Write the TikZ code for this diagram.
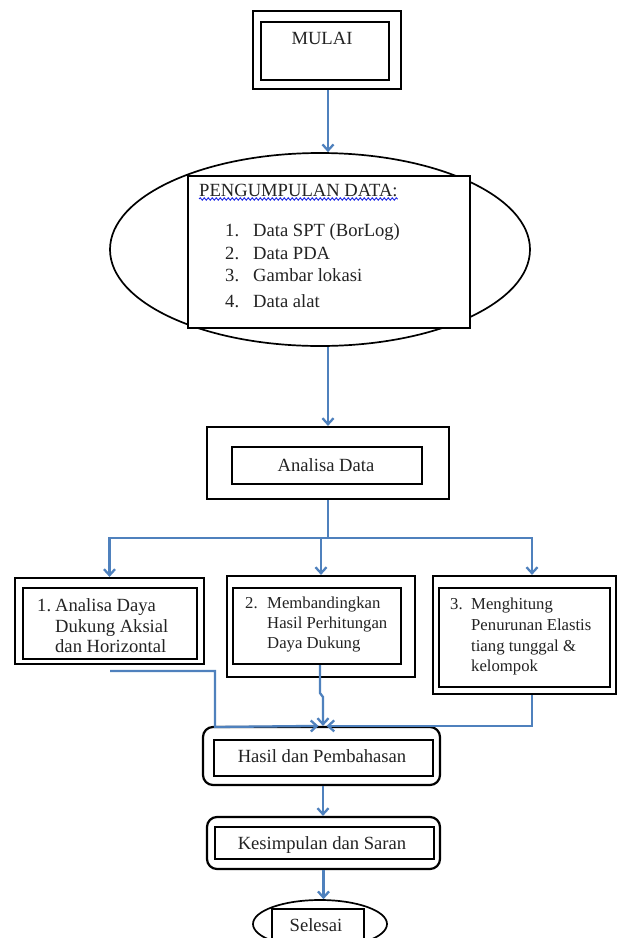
\documentclass[tikz,border=0pt]{standalone}
\usepackage{fontspec}
\setmainfont{Liberation Serif}
\usetikzlibrary{arrows.meta,shapes.geometric,decorations.pathmorphing}
\definecolor{arrblue}{RGB}{79,129,189}
\definecolor{txt}{RGB}{35,35,35}
\definecolor{spell}{RGB}{30,40,230}
\begin{document}
\begin{tikzpicture}[x=1pt,y=-1pt,
  bx/.style={draw=black, line width=2.2pt, fill=white, inner sep=0pt, rectangle},
  rbx/.style={bx, rounded corners=10pt},
  ell/.style={draw=black, line width=1.7pt, fill=white, ellipse, inner sep=0pt},
  lbl/.style={inner sep=0pt, text=txt, font=\fontsize{18.6}{22}\selectfont},
  lbls/.style={inner sep=0pt, text=txt, font=\fontsize{16.7}{20}\selectfont},
  arr/.style={draw=arrblue, line width=2.3pt, -{Straight Barb[length=6pt,width=11pt]}},
  conn/.style={draw=arrblue, line width=2.3pt},
  squiggle/.style={draw=spell, line width=0.9pt, decorate, decoration={snake, amplitude=1.2pt, segment length=4pt}}]
\useasboundingbox (0,0) rectangle (621,938);
\clip (0,0) rectangle (621,938);
\fill[white] (0,0) rectangle (621,938);

% MULAI
\node[bx, minimum width=148pt, minimum height=78pt] (mulaiO) at (327,50) {};
\node[bx, minimum width=128pt, minimum height=58pt] (mulaiI) at (325,51) {};
\node[lbl, anchor=base] (mulaiT) at (322,44) {MULAI};

% Pengumpulan data
\node[ell, minimum width=420pt, minimum height=193pt] (pengE) at (320,249.5) {};
\node[bx, minimum width=282pt, minimum height=152pt] (pengR) at (329,252) {};
\node[lbl, anchor=base west] (pengT) at (199,196) {PENGUMPULAN DATA:};
\draw[squiggle] (pengT.south west) ++(0,2.5) coordinate (sqA) -- (pengT.south east |- sqA);
\node[lbl, anchor=base west] (n1) at (225,236) {1.};
\node[lbl, anchor=base west] (i1) at (253,236) {Data SPT (BorLog)};
\node[lbl, anchor=base west] (n2) at (225,259) {2.};
\node[lbl, anchor=base west] (i2) at (253,259) {Data PDA};
\node[lbl, anchor=base west] (n3) at (225,281) {3.};
\node[lbl, anchor=base west] (i3) at (253,281) {Gambar lokasi};
\node[lbl, anchor=base west] (n4) at (225,307) {4.};
\node[lbl, anchor=base west] (i4) at (253,307) {Data alat};

% Analisa Data
\node[bx, minimum width=242pt, minimum height=72pt] (anaO) at (328,463) {};
\node[bx, minimum width=190pt, minimum height=37pt] (anaI) at (327,465.5) {};
\node[lbl, anchor=base] (anaT) at (326,471) {Analisa Data};

% Box 1
\node[bx, minimum width=189pt, minimum height=86pt] (b1O) at (109.5,621) {};
\node[bx, minimum width=174pt, minimum height=71pt] (b1I) at (110,623.5) {};
\node[lbl, anchor=base west] (b1n) at (37,611) {1.};
\node[lbl, anchor=base west] (b1a) at (55,611) {Analisa Daya};
\node[lbl, anchor=base west] (b1b) at (55,632) {Dukung Aksial};
\node[lbl, anchor=base west] (b1c) at (55,652) {dan Horizontal};

% Box 2
\node[bx, minimum width=188pt, minimum height=101pt] (b2O) at (321,626.5) {};
\node[bx, minimum width=168pt, minimum height=76pt] (b2I) at (317,626) {};
\node[lbls, anchor=base west] (b2n) at (245,608) {2.};
\node[lbls, anchor=base west] (b2a) at (267,608) {Membandingkan};
\node[lbls, anchor=base west] (b2b) at (267,628) {Hasil Perhitungan};
\node[lbls, anchor=base west] (b2c) at (267,648) {Daya Dukung};

% Box 3
\node[bx, minimum width=183pt, minimum height=118pt] (b3O) at (524.5,635) {};
\node[bx, minimum width=171pt, minimum height=99pt] (b3I) at (524.5,637.5) {};
\node[lbls, anchor=base west] (b3n) at (450,609) {3.};
\node[lbls, anchor=base west] (b3a) at (471,609) {Menghitung};
\node[lbls, anchor=base west] (b3b) at (471,630) {Penurunan Elastis};
\node[lbls, anchor=base west] (b3c) at (471,651) {tiang tunggal \&};
\node[lbls, anchor=base west] (b3d) at (471,671) {kelompok};

% Hasil
\node[rbx, minimum width=237pt, minimum height=58pt] (hasO) at (321.5,756) {};
\node[bx, minimum width=219pt, minimum height=36pt] (hasI) at (323.5,758) {};
\node[lbl, anchor=base] (hasT) at (322,762) {Hasil dan Pembahasan};

% Kesimpulan
\node[rbx, minimum width=233pt, minimum height=52pt] (kesO) at (323.5,843) {};
\node[bx, minimum width=219pt, minimum height=32pt] (kesI) at (324.5,843) {};
\node[lbl, anchor=base] (kesT) at (322,849) {Kesimpulan dan Saran};

% Selesai
\node[ell, minimum width=134pt, minimum height=48pt] (selE) at (320,924) {};
\node[bx, minimum width=92pt, minimum height=42pt] (selR) at (318,930) {};
\node[lbl, anchor=base] (selT) at (316,931) {Selesai};

% connectors
\draw[arr] ([xshift=1pt]mulaiO.south) -- ([xshift=1pt]mulaiO.south |- pengE.north);
\draw[arr] (anaO.north |- pengE.south) -- (anaO.north);

\coordinate (jn) at (328,538);
\draw[conn, line width=2.9pt] (anaO.south) -- (jn);
\draw[arr] (jn) -| (b1O.north);
\draw[arr] (jn) -| (b2O.north);
\draw[arr] (jn) -| ([xshift=7.5pt]b3O.north);

\coordinate (c1) at (110,671);
\coordinate (k1) at (215,727);
\draw[arr] (c1) -| (k1) -- ([xshift=-3pt]hasO.north);
\coordinate (j2) at (320,693);
\draw[arr] ([xshift=3pt]b2I.south) -- (j2) -- ([xshift=3pt]j2 |- 0,697) -- ([xshift=1.5pt]hasO.north);
\draw[arr] ([xshift=7.5pt]b3O.south) |- ([xshift=5pt]hasO.north);

\draw[arr] ([xshift=1.5pt]hasO.south) -- ([xshift=1.5pt]hasO.south |- kesO.north);
\draw[arr] (kesO.south) -- (kesO.south |- selE.north);
\end{tikzpicture}
\end{document}
